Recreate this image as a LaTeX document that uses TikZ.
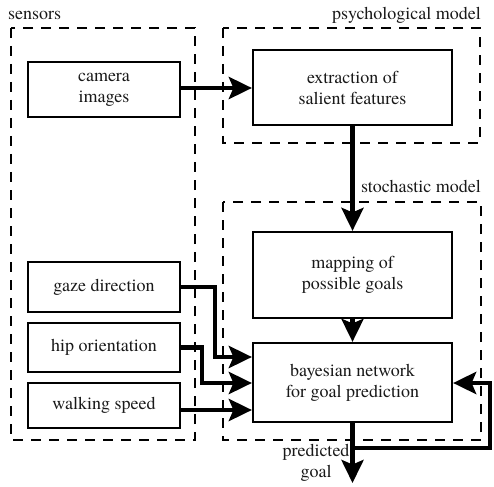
\documentclass[tikz,border=0pt]{standalone}
\usepackage{fontspec}
\setmainfont{texgyretermes-regular.otf}
\usetikzlibrary{arrows.meta,calc}

\tikzset{
  unit/.style={draw=black, line width=2.2pt, fill=white, inner sep=0pt,
    align=center, font=\fontsize{18}{21}\selectfont, text=black!90},
  group/.style={draw=black, line width=2.2pt, dash pattern=on 10pt off 8pt},
  flow/.style={line width=4.5pt, draw=black,
    -{Stealth[length=23pt, width=22pt, inset=4.5pt]}},
  caption/.style={font=\fontsize{18}{21}\selectfont, text=black!90, inner sep=0pt}
}

\begin{document}
\begin{tikzpicture}[x=1pt, y=-1pt]
  \useasboundingbox (0,0) rectangle (494,486);

  % dashed group frames
  \draw[group] (11,28) rectangle (195,440);
  \draw[group] (223,28) rectangle (480,143);
  \draw[group] (223,202) rectangle (481,440);

  \node[caption, anchor=base west] (lsens) at (8,20) {sensors};
  \node[caption, anchor=base east] (lpsy) at (481,20) {psychological model};
  \node[caption, anchor=base east] (lsto) at (481,192) {stochastic model};

  % sensor inputs
  \node[unit, minimum width=152pt, minimum height=55pt] (cam) at (104,89.5) {camera\\images};
  \node[unit, minimum width=152pt, minimum height=50pt] (gaze) at (104,287) {gaze direction};
  \node[unit, minimum width=152pt, minimum height=49pt] (hip) at (104,347.5) {hip orientation};
  \node[unit, minimum width=152pt, minimum height=45pt] (walk) at (104,405.5) {walking speed};

  % processing stages
  \node[unit, minimum width=199pt, minimum height=75pt] (extr) at (352.5,87.5) {extraction of\\salient features};
  \node[unit, minimum width=199pt, minimum height=86pt] (map) at (352.5,275) {mapping of\\possible goals};
  \node[unit, minimum width=199pt, minimum height=79pt] (bay) at (352.5,382.5) {bayesian network\\for goal prediction};

  % connectors
  \draw[flow] (cam.east |- 0,88) -- (extr.west |- 0,88);
  \draw[flow] (extr.south) -- (map.north);
  \draw[flow] (map.south) -- (bay.north);
  \draw[flow] (gaze.east) -| (215,357) -- (bay.west |- 0,357);
  \draw[flow] (hip.east) -| (202,383) -- (bay.west |- 0,383);
  \draw[flow] (walk.east |- 0,410) -- (bay.west |- 0,410);

  % output and feedback loop
  \coordinate (out) at (352.5,483);
  \coordinate (split) at (352.5,448);
  \draw[flow] (bay.south) -- (out);
  \draw[flow] (split) -- (490,448) -- (490,383) -- (bay.east |- 0,383);
  \node[caption, align=center] (pred) at (316,463) {predicted\\goal};
\end{tikzpicture}
\end{document}
